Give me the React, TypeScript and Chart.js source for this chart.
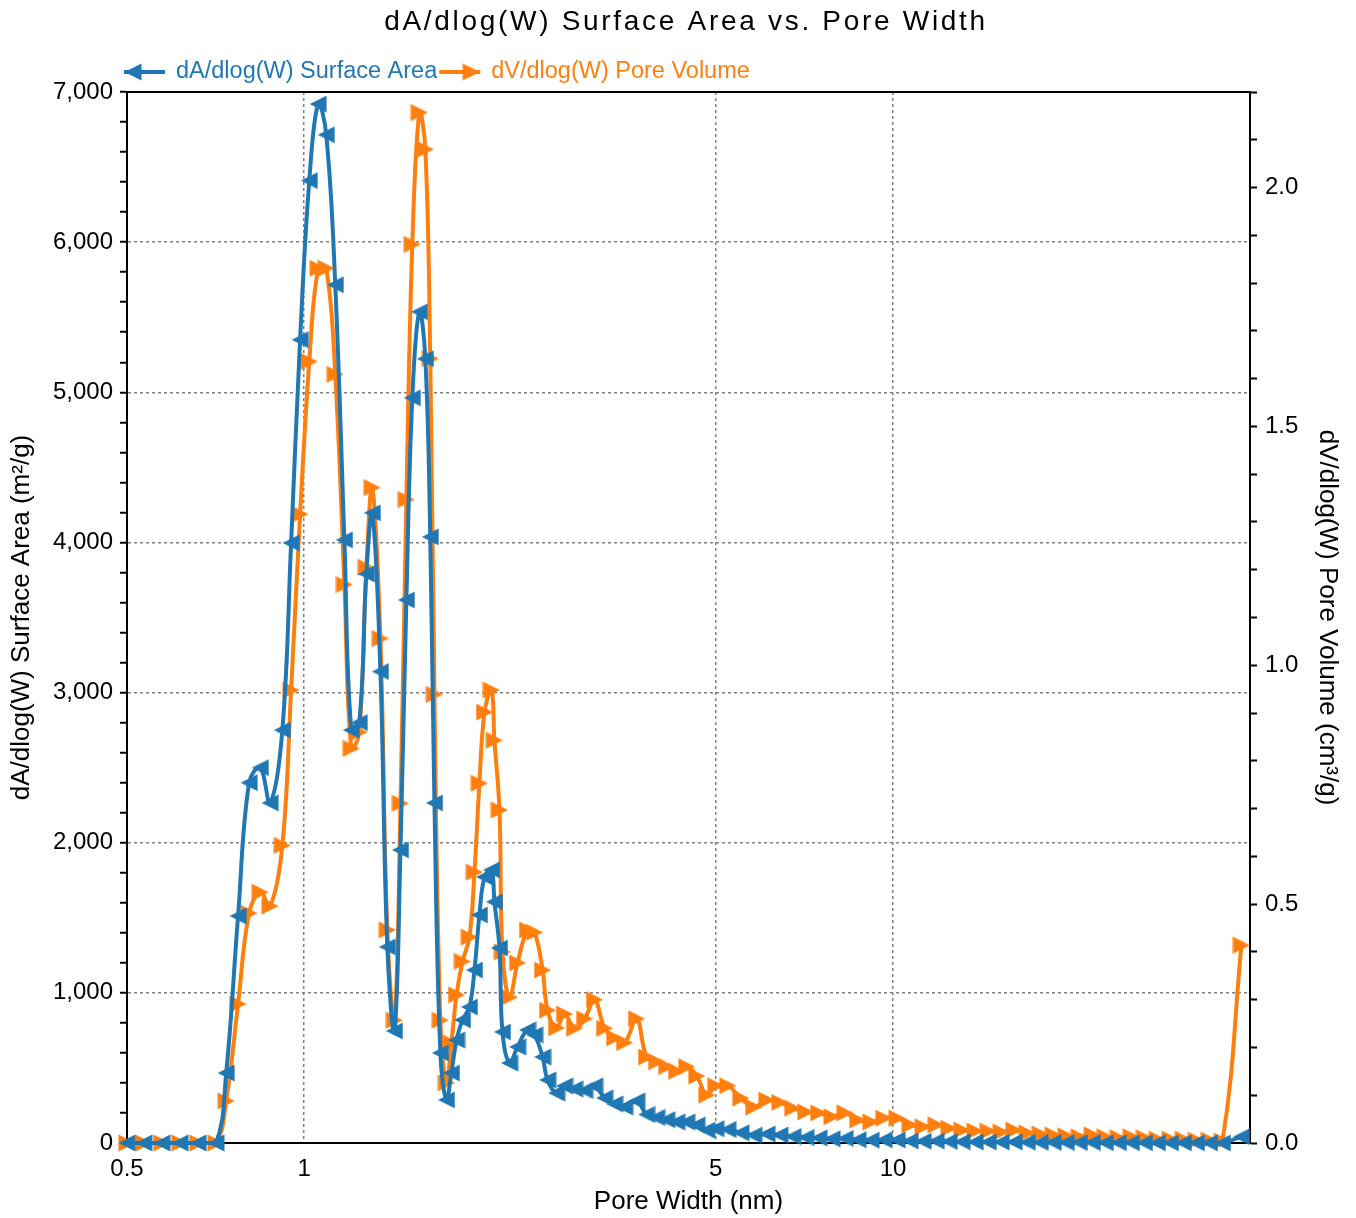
import { useEffect, useRef } from "react";
import { Chart, registerables } from "chart.js";

Chart.register(...registerables);

// Pore width (nm) for each point of the distribution
const poreWidthNm = [
  0.5, 0.534, 0.573, 0.615, 0.66, 0.708, 0.737, 0.772, 0.806, 0.842,
  0.875, 0.918, 0.95, 0.984, 1.02, 1.056, 1.09, 1.129, 1.17, 1.202,
  1.24, 1.275, 1.305, 1.347, 1.384, 1.423, 1.457, 1.491, 1.526, 1.569,
  1.606, 1.637, 1.664, 1.703, 1.744, 1.778, 1.814, 1.857, 1.908, 1.946,
  1.984, 2.024, 2.08, 2.104, 2.146, 2.171, 2.232, 2.303, 2.395, 2.461,
  2.54, 2.59, 2.683, 2.768, 2.879, 2.994, 3.113, 3.237, 3.366, 3.501,
  3.669, 3.815, 3.968, 4.126, 4.292, 4.463, 4.642, 4.828, 5.0, 5.242,
  5.515, 5.801, 6.107, 6.424, 6.76, 7.112, 7.483, 7.877, 8.289, 8.718,
  9.176, 9.654, 10.16, 10.69, 11.25, 11.84, 12.45, 13.1, 13.79, 14.51,
  15.27, 16.06, 16.9, 17.78, 18.71, 19.69, 20.72, 21.8, 22.94, 24.14,
  25.4, 26.73, 28.12, 29.59, 31.13, 32.76, 34.47, 36.27, 39.07,
];

// dA/dlog(W) surface area (m²/g)
const surfaceArea = [
  0, 0, 0, 0, 0, 0, 466, 1512, 2400, 2500,
  2265, 2750, 3997, 5350, 6410, 6920, 6715, 5716, 4017, 2750,
  2800, 3790, 4197, 3140, 1306, 746, 1952, 3617, 4963, 5536,
  5223, 4037, 2265, 600, 287, 466, 686, 820, 906, 1152,
  1519, 1772, 1819, 1606, 1299, 740, 533, 640, 753, 720,
  573, 420, 333, 380, 360, 350, 380, 300, 260, 240,
  280, 190, 170, 155, 140, 140, 120, 85, 95, 90,
  68, 52, 60, 53, 43, 37, 34, 28, 30, 22,
  19, 21, 20, 14, 12, 13, 10, 8, 7, 7,
  6, 7, 5, 4, 4, 3, 3, 3, 2, 2,
  2, 2, 1, 1, 1, 1, 1, 0, 42,
];

// dV/dlog(W) pore volume (cm³/g)
const poreVolume = [
  0, 0, 0, 0, 0, 0, 0.088, 0.291, 0.481, 0.525,
  0.496, 0.623, 0.948, 1.316, 1.636, 1.831, 1.831, 1.609, 1.169, 0.826,
  0.86, 1.205, 1.372, 1.056, 0.446, 0.257, 0.711, 1.347, 1.881, 2.157,
  2.08, 1.642, 0.939, 0.257, 0.126, 0.209, 0.31, 0.38, 0.431, 0.567,
  0.753, 0.902, 0.948, 0.843, 0.697, 0.4, 0.305, 0.377, 0.446, 0.441,
  0.362, 0.278, 0.241, 0.27, 0.24, 0.26, 0.3, 0.24, 0.22, 0.21,
  0.26, 0.18, 0.17, 0.16, 0.15, 0.16, 0.14, 0.1, 0.12, 0.12,
  0.094, 0.075, 0.09, 0.085, 0.073, 0.065, 0.063, 0.055, 0.063, 0.048,
  0.044, 0.052, 0.052, 0.038, 0.034, 0.038, 0.031, 0.027, 0.025, 0.025,
  0.023, 0.027, 0.021, 0.019, 0.017, 0.015, 0.013, 0.017, 0.013, 0.011,
  0.013, 0.011, 0.008, 0.008, 0.008, 0.006, 0.006, 0.004, 0.414,
];

const xTickValues = [0.5, 1, 5, 10];
const xMin = 0.5;
const xMax = 40.4;
const areaMax = 7000;
const volumeMax = 2.2;

const TITLE = "dA/dlog(W) Surface Area vs. Pore Width";
const BLUE = "#1f77b4";
const ORANGE = "#ff7f0e";
const GRID = "#808080";
const FONT = "'Liberation Sans', Arial, Helvetica, sans-serif";
const MARKER = 18; // marker canvas size (px)
const LINE_W = 4;

// Triangle marker as a small canvas: tip pointing left or right, square bounding box
function makeTriangle(color: string, pointLeft: boolean): HTMLCanvasElement {
  const c = document.createElement("canvas");
  c.width = MARKER;
  c.height = MARKER;
  const g = c.getContext("2d") as CanvasRenderingContext2D;
  const m = 0.5;
  const s = MARKER - 0.5;
  g.fillStyle = color;
  g.beginPath();
  if (pointLeft) {
    g.moveTo(m, MARKER / 2);
    g.lineTo(s, m);
    g.lineTo(s, s);
  } else {
    g.moveTo(s, MARKER / 2);
    g.lineTo(m, m);
    g.lineTo(m, s);
  }
  g.closePath();
  g.fill();
  return c;
}

const headerPlugin = {
  id: "headerAndFrame",
  afterDraw(chart: any) {
    const { ctx, chartArea } = chart;
    ctx.save();
    // top frame line of the plot area
    ctx.strokeStyle = "#000";
    ctx.lineWidth = 2;
    ctx.beginPath();
    ctx.moveTo(chartArea.left - 1, chartArea.top);
    ctx.lineTo(chartArea.right + 1, chartArea.top);
    ctx.stroke();

    // title
    ctx.fillStyle = "#000";
    ctx.font = `28px ${FONT}`;
    ctx.textAlign = "center";
    ctx.textBaseline = "middle";
    (ctx as any).letterSpacing = "2.7px";
    ctx.fillText(TITLE, 686, 22);
    (ctx as any).letterSpacing = "0px";

    // legend: line sample with its triangle marker, then the coloured label
    const ds = chart.data.datasets;
    const legendY = 72;
    ctx.font = `23.5px ${FONT}`;
    ctx.textAlign = "left";
    ctx.textBaseline = "middle";
    let x = 124;
    ds.forEach((d: any, i: number) => {
      const color = d.borderColor;
      ctx.strokeStyle = color;
      ctx.fillStyle = color;
      ctx.lineWidth = LINE_W;
      ctx.beginPath();
      ctx.moveTo(x, legendY);
      ctx.lineTo(x + 41, legendY);
      ctx.stroke();
      const img = d.pointStyle as HTMLCanvasElement;
      const mx = i === 0 ? x : x + 41 - MARKER;
      ctx.drawImage(img, mx, legendY - MARKER / 2);
      ctx.fillText(d.label, x + 52, legendY);
      x = x + 52 + ctx.measureText(d.label).width + 2;
    });
    ctx.restore();
  },
};

const tickFont = { family: FONT, size: 24 };
const titleFont = { family: FONT, size: 26 };

export default function App() {
  const canvasRef = useRef<HTMLCanvasElement | null>(null);

  useEffect(() => {
    const canvas = canvasRef.current;
    if (!canvas) return;
    const blueMarker = makeTriangle(BLUE, true);
    const orangeMarker = makeTriangle(ORANGE, false);
    const chart = new Chart(canvas, {
      type: "line",
      data: {
        datasets: [
          {
            label: "dA/dlog(W) Surface Area",
            data: poreWidthNm.map((x, i) => ({ x, y: surfaceArea[i] })),
            yAxisID: "yA",
            borderColor: BLUE,
            backgroundColor: BLUE,
            borderWidth: LINE_W,
            pointStyle: blueMarker,
            pointRadius: 9,
            pointBorderWidth: 0,
            tension: 0.4,
            clip: false,
          },
          {
            label: "dV/dlog(W) Pore Volume",
            data: poreWidthNm.map((x, i) => ({ x, y: poreVolume[i] })),
            yAxisID: "yV",
            borderColor: ORANGE,
            backgroundColor: ORANGE,
            borderWidth: LINE_W,
            pointStyle: orangeMarker,
            pointRadius: 9,
            pointBorderWidth: 0,
            tension: 0.4,
            clip: false,
          },
        ],
      } as any,
      options: {
        animation: false,
        responsive: false,
        maintainAspectRatio: false,
        layout: { padding: { top: 92, left: 0, right: 0, bottom: 0 } },
        plugins: {
          legend: { display: false },
          title: { display: false },
          tooltip: { enabled: false },
        },
        scales: {
          x: {
            type: "logarithmic",
            min: xMin,
            max: xMax,
            afterBuildTicks: (s: any) => {
              s.ticks = xTickValues.map((v) => ({ value: v }));
            },
            afterFit: (s: any) => {
              s.height = 75;
            },
            ticks: {
              autoSkip: false,
              maxRotation: 0,
              padding: 12,
              color: "#000",
              font: tickFont,
              callback: (v: any) => String(v),
            },
            grid: {
              color: (c: any) => (c.tick && c.tick.value === xMin ? "rgba(0,0,0,0)" : GRID),
              lineWidth: 1.5,
              drawTicks: false,
            },
            border: { color: "#000", width: 2, dash: [3, 3] },
            title: {
              display: true,
              text: "Pore Width (nm)",
              color: "#000",
              font: titleFont,
              padding: { top: 0, bottom: 1 },
            },
          },
          yA: {
            type: "linear",
            position: "left",
            min: 0,
            max: areaMax,
            afterBuildTicks: (s: any) => {
              const t = [];
              for (let v = 0; v <= areaMax; v += 200) t.push({ value: v });
              s.ticks = t;
            },
            afterFit: (s: any) => {
              s.width = 127;
            },
            ticks: {
              autoSkip: false,
              padding: 7,
              color: "#000",
              font: tickFont,
              callback: (v: any) => (v % 1000 === 0 ? Number(v).toLocaleString("en-US") : ""),
            },
            grid: {
              color: (c: any) =>
                c.tick && c.tick.value % 1000 === 0 && c.tick.value !== 0 && c.tick.value !== areaMax
                  ? GRID
                  : "rgba(0,0,0,0)",
              lineWidth: 1.5,
              tickColor: "#000",
              tickLength: 7,
              tickWidth: 2,
            },
            border: { color: "#000", width: 2, dash: [3, 3] },
            title: {
              display: true,
              text: "dA/dlog(W) Surface Area (m²/g)",
              color: "#000",
              font: titleFont,
              padding: { top: 6, bottom: 0 },
            },
          },
          yV: {
            type: "linear",
            position: "right",
            min: 0,
            max: volumeMax,
            afterBuildTicks: (s: any) => {
              const t = [];
              for (let k = 0; k <= 22; k++) t.push({ value: k / 10 });
              s.ticks = t;
            },
            afterFit: (s: any) => {
              s.width = 106;
            },
            ticks: {
              autoSkip: false,
              padding: 8,
              color: "#000",
              font: tickFont,
              callback: (v: any) => {
                const k = Math.round(Number(v) * 10);
                return k % 5 === 0 ? (k / 10).toFixed(1) : "";
              },
            },
            grid: {
              drawOnChartArea: false,
              tickColor: "#000",
              tickLength: 7,
              tickWidth: 2,
            },
            border: { color: "#000", width: 2 },
            title: {
              display: true,
              text: "dV/dlog(W) Pore Volume (cm³/g)",
              color: "#000",
              font: titleFont,
              padding: { top: 13, bottom: 0 },
            },
          },
        },
      } as any,
      plugins: [headerPlugin],
    });
    return () => chart.destroy();
  }, []);

  return (
    <div style={{ position: "fixed", left: 0, top: 0, width: 1356, height: 1218, background: "#fff" }}>
      <canvas ref={canvasRef} width={1356} height={1218} style={{ width: 1356, height: 1218, display: "block" }} />
    </div>
  );
}
